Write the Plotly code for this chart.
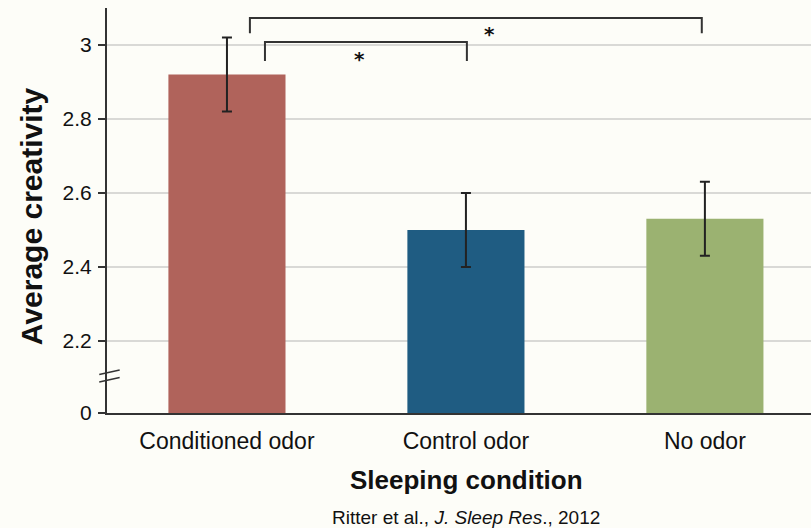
import plotly.graph_objects as go

categories = ["Conditioned odor", "Control odor", "No odor"]
values = [2.92, 2.50, 2.53]
errors = [0.10, 0.10, 0.10]
colors = ["#b0635b", "#1f5c82", "#9bb271"]
tick_vals = [2.005, 2.2, 2.4, 2.6, 2.8, 3.0]
tick_text = ["0", "2.2", "2.4", "2.6", "2.8", "3"]

xpos = list(range(len(categories)))
bg = "#fdfdf8"
txt = "#111111"

fig = go.Figure()
fig.add_trace(go.Bar(
    x=xpos, y=values, width=0.49,
    marker=dict(color=colors, line=dict(width=0)),
    error_y=dict(type="data", array=errors, color="#222222", thickness=2, width=5),
))

# significance brackets (data coords)
def bracket(x0, x1, ytop, ybot):
    fig.add_shape(type="path",
                  path=f"M {x0} {ybot} L {x0} {ytop} L {x1} {ytop} L {x1} {ybot}",
                  line=dict(color="#333333", width=2), xref="x", yref="y")

bracket(0.096, 1.987, 3.073, 3.032)
bracket(0.159, 1.004, 3.008, 2.957)
fig.add_annotation(x=0.556, y=2.962, text="<b>*</b>", showarrow=False,
                   font=dict(size=20, color=txt, family="DejaVu Sans"))
fig.add_annotation(x=1.097, y=3.03, text="<b>*</b>", showarrow=False,
                   font=dict(size=20, color=txt, family="DejaVu Sans"))

# axis break marks
for yy in [2.115, 2.095]:
    fig.add_shape(type="line", xref="paper", yref="y",
                  x0=-0.011, x1=0.018, y0=yy - 0.006, y1=yy + 0.006,
                  line=dict(color="#333333", width=1.5))

fig.add_annotation(xref="paper", yref="paper", x=0.0, y=0.486, xshift=-76,
                   xanchor="center", yanchor="middle",
                   text="<b>Average creativity</b>", showarrow=False, textangle=-90,
                   font=dict(size=30, color=txt, family="Liberation Sans"))
fig.add_annotation(xref="paper", yref="paper", x=0.51, y=-0.165,
                   xanchor="center", yanchor="middle",
                   text="<b>Sleeping condition</b>", showarrow=False,
                   font=dict(size=26, color=txt, family="Liberation Sans"))
fig.add_annotation(xref="paper", yref="paper", x=0.51, y=-0.257,
                   xanchor="center", yanchor="middle",
                   text="Ritter et al., <i>J. Sleep Res</i>., 2012", showarrow=False,
                   font=dict(size=19, color=txt, family="Liberation Sans"))

fig.update_layout(
    width=811, height=528,
    margin=dict(l=107, r=0, t=8, b=115),
    paper_bgcolor=bg, plot_bgcolor=bg,
    showlegend=False,
    xaxis=dict(
        range=[-0.502, 2.444], tickvals=xpos, ticktext=categories,
        showgrid=False, zeroline=False, showline=True, linecolor="#333333",
        linewidth=2, ticks="", ticklabelstandoff=6,
        tickfont=dict(size=23, color=txt, family="Liberation Sans"),
    ),
    yaxis=dict(
        range=[2.005, 3.1], tickvals=tick_vals, ticktext=tick_text,
        showgrid=True, gridcolor="#d9d9d6", gridwidth=2, zeroline=False,
        showline=True, linecolor="#333333", linewidth=2,
        ticks="outside", ticklen=7, tickwidth=2, tickcolor="#333333",
        ticklabelstandoff=2,
        tickfont=dict(size=21, color=txt, family="Liberation Sans"),
    ),
)

fig.write_html("out.html")
